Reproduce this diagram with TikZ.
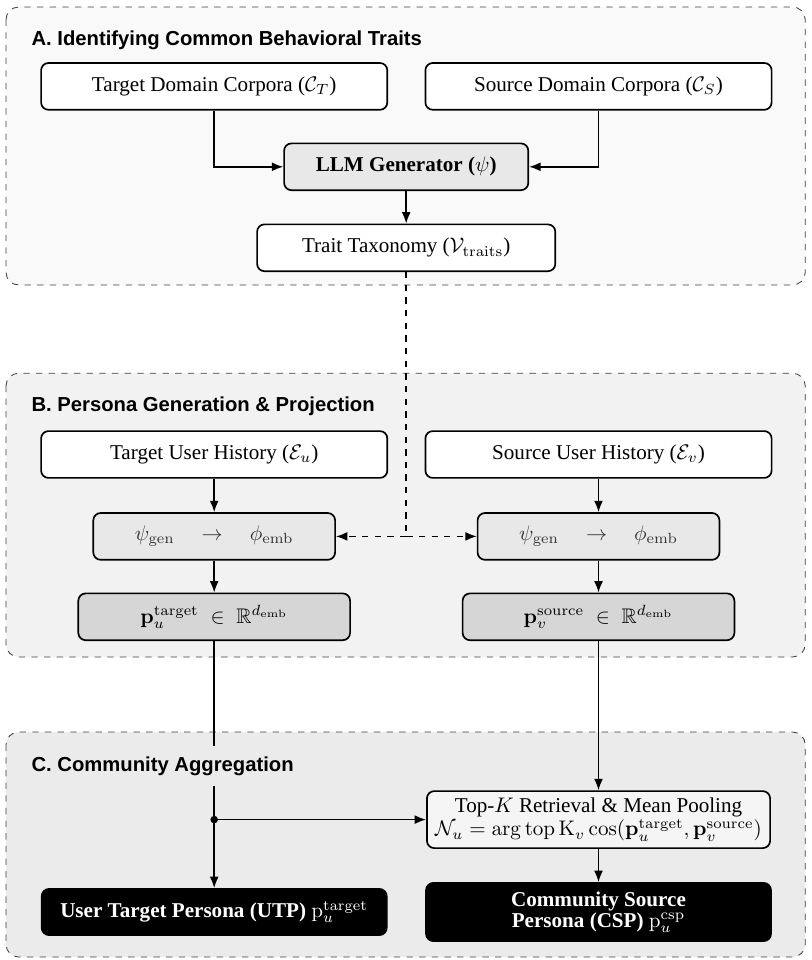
\documentclass[tikz,border=0pt]{standalone}
\usepackage{amsmath,amssymb}
\usepackage[no-math]{fontspec}
\setmainfont{Liberation Serif}
\setsansfont{Liberation Sans}
\usetikzlibrary{arrows.meta}

\definecolor{secA}{HTML}{F9F9F9}
\definecolor{secB}{HTML}{F2F2F2}
\definecolor{secC}{HTML}{EBEBEB}
\definecolor{opgray}{HTML}{E8E8E8}
\definecolor{embgray}{HTML}{D6D6D6}

\begin{document}
\begin{tikzpicture}[>={Latex[length=5.4pt,width=4.2pt]},
    section/.style={draw=black!75,dashed,rounded corners=6pt},
    sectitle/.style={anchor=west,inner xsep=0pt,inner ysep=5pt,
        font=\sffamily\bfseries\fontsize{9.6}{11}\selectfont},
    basebox/.style={draw,rounded corners=3.5pt,line width=0.8pt,minimum height=0.78cm},
    plainbox/.style={basebox,fill=white,minimum width=5.77cm},
    genbox/.style={basebox,fill=opgray,font=\bfseries},
    opbox/.style={basebox,fill=opgray,minimum width=4.03cm,text=black!80},
    embbox/.style={basebox,fill=embgray,minimum width=4.53cm},
    outbox/.style={basebox,fill=black,text=white,font=\bfseries,minimum width=5.75cm,align=center},
    link/.style={line width=0.7pt,->}]
    \useasboundingbox (0,0) rectangle (13.533,-16);

    % sections
    \draw[section,fill=secA] (0.1,-0.117) rectangle (13.42,-4.75);
    \draw[section,fill=secB] (0.1,-6.22) rectangle (13.42,-10.95);
    \draw[section,fill=secC] (0.1,-12.2) rectangle (13.42,-15.95);

    % A
    \node[plainbox] (tdc) at (3.57,-1.44) {Target Domain Corpora ($\mathcal{C}_T$)};
    \node[plainbox] (sdc) at (9.975,-1.44) {Source Domain Corpora ($\mathcal{C}_S$)};
    \node[genbox,minimum width=4.07cm] (llm) at (6.77,-2.78) {LLM Generator ($\psi$)};
    \node[plainbox,minimum width=4.97cm] (trait) at (6.77,-4.13) {Trait Taxonomy ($\mathcal{V}_{\mathrm{traits}}$)};

    % B
    \node[plainbox] (tuh) at (3.57,-7.575) {Target User History ($\mathcal{E}_u$)};
    \node[plainbox] (suh) at (9.975,-7.575) {Source User History ($\mathcal{E}_v$)};
    \node[opbox] (psiu) at (3.57,-8.94) {$\psi_{\mathrm{gen}} \quad\rightarrow\quad \phi_{\mathrm{emb}}$};
    \node[opbox] (psiv) at (9.975,-8.94) {$\psi_{\mathrm{gen}} \quad\rightarrow\quad \phi_{\mathrm{emb}}$};
    \node[embbox] (pu) at (3.57,-10.28) {$\mathbf{p}_u^{\mathrm{target}} \;\in\; \mathbb{R}^{d_{\mathrm{emb}}}$};
    \node[embbox] (pv) at (9.975,-10.28) {$\mathbf{p}_v^{\mathrm{source}} \;\in\; \mathbb{R}^{d_{\mathrm{emb}}}$};

    % C
    \node[basebox,fill=black!4,minimum width=5.72cm,minimum height=0.95cm,align=center,inner sep=2pt] (topk) at (9.975,-13.66)
        {Top-$K$ Retrieval \& Mean Pooling\\[-1pt]
         $\mathcal{N}_u = \arg\operatorname{top}\mathrm{K}_v \cos(\mathbf{p}_u^{\mathrm{target}}, \mathbf{p}_v^{\mathrm{source}})$};
    \node[outbox,minimum height=0.77cm] (utp) at (3.57,-15.2) {User Target Persona (UTP) $\mathrm{p}_u^{\mathrm{target}}$};
    \node[outbox,minimum height=0.97cm,inner sep=1pt] (csp) at (9.975,-15.2) {Community Source\\[-2pt] Persona (CSP) $\mathrm{p}_u^{\mathrm{csp}}$};

    % connectors
    \draw[link] (tdc.south) |- (llm.west);
    \draw[link] (sdc.south) |- (llm.east);
    \draw[link] (llm) -- (trait);
    \draw[line width=0.7pt,dashed] (trait.south) -- (trait.south |- psiu.east) coordinate (split);
    \draw[link,dashed] (split) -- (psiu.east);
    \draw[link,dashed] (split) -- (psiv.west);
    \draw[link] (tuh) -- (psiu);
    \draw[link] (psiu) -- (pu);
    \draw[link] (suh) -- (psiv);
    \draw[link] (psiv) -- (pv);
    \draw[link] (pu) -- (utp);
    \coordinate (junc) at (pu.south |- topk.west);
    \fill (junc) circle (1.8pt);
    \draw[link] (junc) -- (topk.west);
    \draw[link] (pv) -- (topk);
    \draw[link] (topk) -- (csp);

    % titles
    \node[sectitle,fill=secA] (titleA) at (0.52,-0.667) {A. Identifying Common Behavioral Traits};
    \node[sectitle,fill=secB] (titleB) at (0.52,-6.77) {B. Persona Generation \& Projection};
    \node[sectitle,fill=secC] (titleC) at (0.52,-12.77) {C. Community Aggregation};
\end{tikzpicture}
\end{document}
